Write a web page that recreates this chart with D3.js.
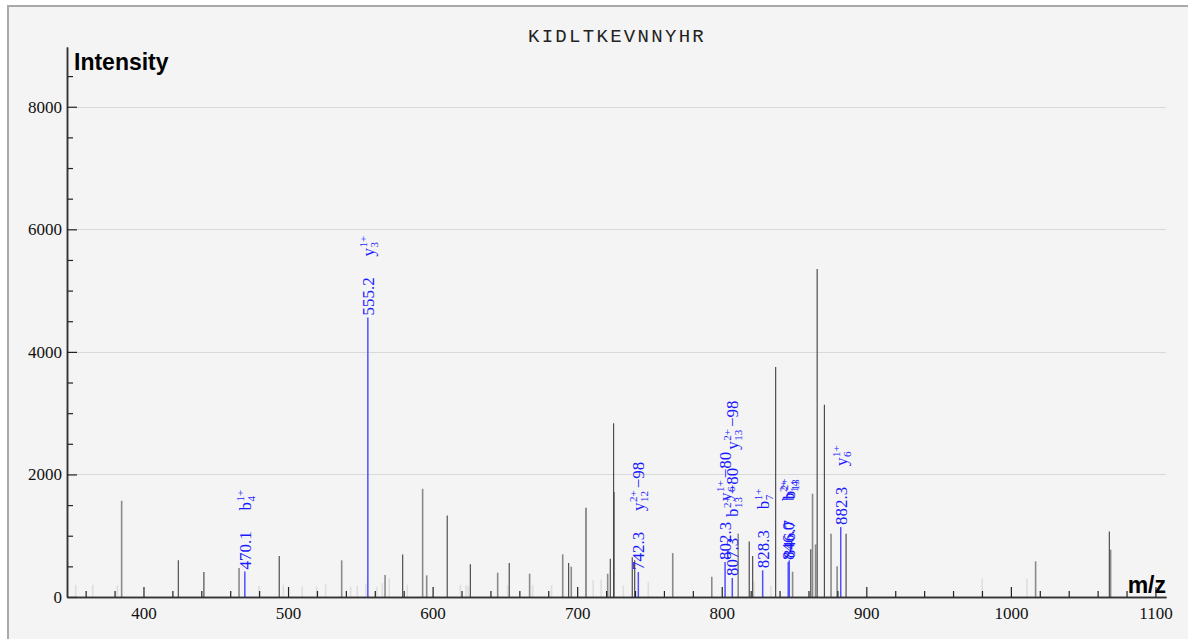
<!DOCTYPE html>
<html>
<head>
<meta charset="utf-8">
<script src="https://cdn.jsdelivr.net/npm/d3@7"></script>
<style>
  html, body { margin: 0; padding: 0; background: #ffffff; }
  svg { display: block; }
</style>
</head>
<body>
<svg id="chart" width="1188" height="639"></svg>
<script>
// ---------------- data ----------------
const title = "KIDLTKEVNNYHR";
const yTicks = [0, 2000, 4000, 6000, 8000];
const xTicks = [400, 500, 600, 700, 800, 900, 1000, 1100];

// faint (unassigned, low) peaks
const lightMz  = [353.1, 364.9, 381.9, 479.9, 496.7, 509.8, 519.8, 526.0, 543.3, 547.9, 553.9, 561.3, 565.2, 570.0, 582.5, 619.2, 623.1, 624.7, 651.9, 669.2, 682.3, 711.1, 716.6, 731.9, 749.2, 822.3, 834.0, 980.2, 1011.1];
const lightInt = [200, 200, 190, 180, 200, 170, 170, 210, 170, 180, 215, 170, 230, 300, 200, 200, 190, 180, 190, 190, 190, 272, 285, 190, 245, 250, 180, 300, 300];

// grey peaks
const midMz  = [384.9, 466.1, 537.1, 567.1, 593.1, 595.9, 645.0, 667.1, 690.0, 695.9, 721.1, 725.6, 766.1, 793.1, 811.4, 849.0, 862.8, 864.9, 875.6, 879.8, 1017.1, 1069.0];
const midInt = [1570, 473, 598, 360, 1766, 353, 397, 380, 696, 495, 380, 1715, 717, 330, 1033, 412, 1685, 858, 1033, 500, 582, 772];

// dark peaks
const darkMz  = [424.1, 441.8, 493.9, 579.3, 610.1, 626.1, 653.0, 694.1, 706.1, 722.9, 725.2, 738.1, 739.8, 819.0, 821.4, 837.3, 861.6, 866.0, 871.0, 886.0, 1068.1];
const darkInt = [600, 407, 668, 693, 1328, 533, 554, 554, 1455, 625, 2835, 650, 600, 907, 668, 3752, 780, 5353, 3137, 1033, 1070];

// annotated (blue) peaks
const annMz    = [470.1, 555.2, 742.3, 802.3, 807.3, 828.3, 846.0, 846.7, 882.3];
const annInt   = [418, 4562, 407, 570, 310, 435, 570, 598, 1141];
const annText  = ["470.1", "555.2", "742.3", "802.3", "807.3", "828.3", "846.0", "846.7", "882.3"];
// ion labels: "ion|index|charge|loss", several separated by ";"
const annIons  = ["b|4|1+|", "y|3|1+|", "y|12|2+|98", "y|6|1+|80", "b|13|2+|80;y|13|2+|98", "b|7|1+|", "b|14|2+|", "b|13|2+|", "y|6|1+|"];

// ---------------- drawing ----------------
const W = 1188, H = 639;
const svg = d3.select("#chart");

svg.append("rect").attr("x", 0).attr("y", 0).attr("width", W).attr("height", H).attr("fill", "#ffffff");
svg.append("rect").attr("x", 8).attr("y", 6).attr("width", 1200).attr("height", 700)
  .attr("fill", "#f4f4f4").attr("stroke", "#a9a9a9").attr("stroke-width", 2);

const x = d3.scaleLinear().domain([347.1, 1107.3]).range([67, 1166]);
const y = d3.scaleLinear().domain([0, 8975]).range([597, 47]);

const serif = "'Liberation Serif', 'Times New Roman', serif";

// grid
svg.append("g").selectAll("line").data(yTicks.filter(d => d > 0)).join("line")
  .attr("x1", x.range()[0]).attr("x2", x.range()[1])
  .attr("y1", d => Math.round(y(d)) + 0.5).attr("y2", d => Math.round(y(d)) + 0.5)
  .attr("stroke", "#d9d9d9").attr("stroke-width", 1);

// title
svg.append("text").attr("x", 617).attr("y", 42).attr("text-anchor", "middle")
  .attr("font-family", "'Liberation Mono', 'Courier New', monospace").attr("font-size", 19)
  .attr("letter-spacing", 2.3)
  .attr("fill", "#222").text(title);

// peaks
function drawPeaks(mz, inten, color, width) {
  svg.append("g").selectAll("line").data(mz.map((m, i) => [m, inten[i]])).join("line")
    .attr("x1", d => x(d[0])).attr("x2", d => x(d[0]))
    .attr("y1", y(0)).attr("y2", d => y(d[1]))
    .attr("stroke", color).attr("stroke-width", width);
}
drawPeaks(lightMz, lightInt, "#dedede", 1.6);
drawPeaks(midMz, midInt, "#8a8a8a", 1.6);
drawPeaks(darkMz, darkInt, "#404040", 1.1);
drawPeaks(annMz, annInt, "#5050ff", 1.5);

// axes
const yAxis = d3.axisLeft(y).tickValues(yTicks).tickSizeInner(-10).tickSizeOuter(0).tickPadding(5).tickFormat(d3.format("d"));
const yMinor = d3.axisLeft(y).tickValues(d3.range(500, 9000, 500).filter(v => v % 2000 !== 0)).tickSizeInner(-6).tickSizeOuter(0).tickFormat("");
const xAxis = d3.axisBottom(x).tickValues(xTicks).tickSizeInner(-10).tickSizeOuter(0).tickPadding(10).tickFormat(d3.format("d"));
const xMinor = d3.axisBottom(x).tickValues(d3.range(360, 1107, 20).filter(v => v % 100 !== 0)).tickSizeInner(-6).tickSizeOuter(0).tickFormat("");

function styleAxis(g) {
  g.select(".domain").attr("stroke", "#333").attr("stroke-width", 1.5);
  g.selectAll(".tick line").attr("stroke", "#222").attr("stroke-width", 1.2);
  g.selectAll(".tick text").attr("font-family", serif).attr("font-size", 17).attr("fill", "#111");
}
svg.append("g").attr("transform", "translate(67,0)").call(yMinor).call(styleAxis);
svg.append("g").attr("transform", "translate(67,0)").call(yAxis).call(styleAxis);
svg.append("g").attr("transform", "translate(0,597)").call(xMinor).call(styleAxis);
svg.append("g").attr("transform", "translate(0,597)").call(xAxis).call(styleAxis);

// axis titles
svg.append("text").attr("x", 74).attr("y", 70)
  .attr("font-family", "'Liberation Sans', Arial, sans-serif").attr("font-weight", "bold").attr("font-size", 23)
  .attr("fill", "#000").text("Intensity");
svg.append("text").attr("x", 1166).attr("y", 593).attr("text-anchor", "end")
  .attr("font-family", "'Liberation Sans', Arial, sans-serif").attr("font-weight", "bold").attr("font-size", 23)
  .attr("fill", "#000").text("m/z");

// annotations (rotated, reading upward)
const annColor = "#1a1aff";
const bigFs = 17, smallFs = 11;
annMz.forEach((m, i) => {
  const px = x(m), top = y(annInt[i]);
  const g = svg.append("g").attr("transform", `translate(${px},${top}) rotate(-90)`);
  g.append("text").attr("x", 2).attr("y", 6).attr("font-family", serif).attr("font-size", bigFs)
    .attr("fill", annColor).text(annText[i]);
  let cursor = 61;
  annIons[i].split(";").forEach(lbl => {
    const [ion, idx, z, loss] = lbl.split("|");
    const base = g.append("text").attr("x", cursor).attr("y", 6).attr("font-family", serif)
      .attr("font-size", bigFs).attr("fill", annColor).text(ion);
    const bw = base.node().getComputedTextLength();
    const sup = g.append("text").attr("x", cursor + bw + 0.5).attr("y", -1).attr("font-family", serif)
      .attr("font-size", smallFs).attr("fill", annColor).text(z);
    const sub = g.append("text").attr("x", cursor + bw + 0.5).attr("y", 10).attr("font-family", serif)
      .attr("font-size", smallFs).attr("fill", annColor).text(idx);
    let end = cursor + bw + 0.5 + Math.max(sup.node().getComputedTextLength(), sub.node().getComputedTextLength());
    if (loss) {
      const lt = g.append("text").attr("x", end + 2).attr("y", 6).attr("font-family", serif)
        .attr("font-size", bigFs).attr("fill", annColor).text("\u2212" + loss);
      end = end + 2 + lt.node().getComputedTextLength();
    }
    cursor = end + 18;
  });
});
</script>
</body>
</html>
